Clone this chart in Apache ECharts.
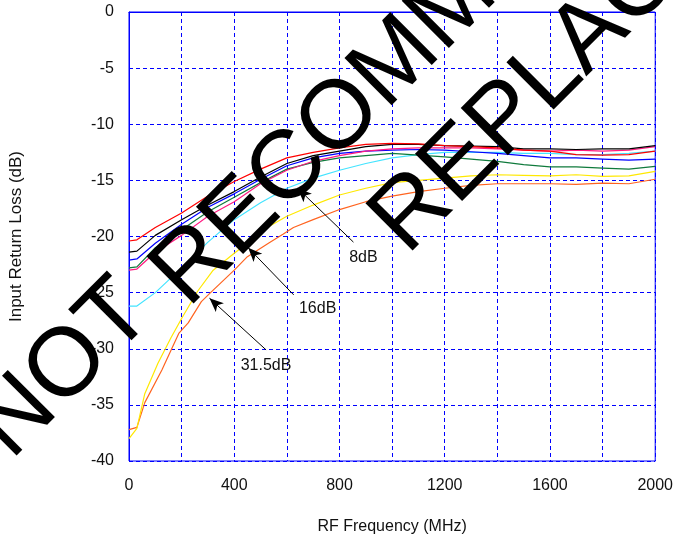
<!DOCTYPE html>
<html>
<head>
<meta charset="utf-8">
<script src="https://cdn.jsdelivr.net/npm/echarts@6/dist/echarts.min.js"></script>
<style>
  html, body { margin: 0; padding: 0; background: #fff; }
  #chart { width: 676px; height: 541px; }
</style>
</head>
<body>
<div id="chart"></div>
<script>
// frequency points (MHz) shared by the upper curves
const freq = [0, 30, 100, 200, 300, 400, 500, 600, 700, 800, 900, 1000, 1100, 1200, 1300, 1400, 1500, 1600, 1700, 1800, 1900, 2000]
const red = [-20.4, -20.3, -19.2, -17.9, -16.4, -15.1, -14.0, -13.0, -12.5, -12.1, -11.8, -11.7, -11.75, -11.9, -12.0, -12.1, -12.3, -12.4, -12.7, -12.75, -12.7, -12.4]
const black = [-21.4, -21.3, -19.9, -18.5, -17.2, -16.0, -14.7, -13.5, -12.8, -12.4, -12.0, -11.8, -11.8, -11.9, -11.95, -12.0, -12.2, -12.2, -12.25, -12.2, -12.2, -11.9]
const blue = [-22.1, -22.0, -20.6, -18.9, -17.4, -16.2, -14.9, -13.7, -13.0, -12.6, -12.4, -12.3, -12.25, -12.3, -12.45, -12.6, -12.8, -13.0, -13.0, -13.1, -13.2, -13.1]
const pink = [-23.0, -22.9, -21.4, -19.9, -18.2, -16.9, -15.3, -14.1, -13.3, -12.8, -12.4, -12.2, -12.1, -12.1, -12.1, -12.2, -12.3, -12.4, -12.3, -12.4, -12.3, -12.0]
const green = [-22.8, -22.7, -21.0, -19.4, -17.8, -16.5, -15.2, -14.0, -13.4, -13.0, -12.8, -12.6, -12.75, -12.9, -13.1, -13.3, -13.6, -13.8, -13.8, -13.9, -14.0, -13.75]
const cyan = [-26.2, -26.2, -25.0, -22.8, -20.5, -18.5, -17.0, -15.7, -14.8, -14.1, -13.5, -13.0, -12.7, -12.5, -12.5, -12.5, -12.6, -12.6, -12.7, -12.7, -12.6, -12.4]

const yellowFreq = [0, 30, 60, 110, 160, 200, 260, 320, 400, 450, 510, 600, 700, 800, 900, 1000, 1100, 1200, 1300, 1400, 1500, 1600, 1700, 1800, 1900, 2000]
const yellow = [-38.0, -37.1, -34.0, -31.3, -29.0, -27.3, -24.9, -23.0, -21.5, -20.6, -19.4, -18.2, -17.2, -16.3, -15.7, -15.2, -15.0, -14.8, -14.6, -14.5, -14.55, -14.6, -14.5, -14.65, -14.6, -14.2]

const orangeFreq = [0, 30, 60, 125, 190, 225, 275, 310, 400, 450, 530, 585, 625, 700, 800, 900, 1000, 1100, 1200, 1300, 1400, 1500, 1600, 1700, 1800, 1900, 2000]
const orange = [-37.2, -37.0, -34.8, -31.9, -28.6, -27.7, -25.8, -25.0, -23.0, -21.8, -20.6, -19.8, -19.2, -18.5, -17.6, -16.9, -16.4, -16.0, -15.7, -15.45, -15.3, -15.3, -15.3, -15.35, -15.25, -15.3, -14.9]

// annotation arrows (data coords)
const arrowNames = ['8dB', '16dB', '31.5dB']
const arrowTips = [[641, -15.7], [453, -21.0], [306, -25.5]]
const arrowTails = [[853, -20.5], [626, -25.2], [521, -30.1]]
const arrowLabelPos = [[891, -21.9], [717, -26.4], [521, -31.5]]

const FONT = '"Liberation Sans", Arial, sans-serif'
const WM_ANGLE = 45 * Math.PI / 180

function pairs(xs, ys) {
  return xs.map((x, i) => [x, ys[i]])
}

function curve(name, xs, ys, color) {
  return {
    name,
    type: 'line',
    data: pairs(xs, ys),
    showSymbol: false,
    symbol: 'none',
    lineStyle: { color, width: 1.2 },
    z: 3,
  }
}

function watermark(text, x, y) {
  return {
    type: 'text',
    x,
    y,
    rotation: WM_ANGLE,
    z: 100,
    silent: true,
    style: {
      text,
      font: '97px ' + FONT,
      fill: '#000',
      textAlign: 'left',
      textVerticalAlign: 'middle',
    },
  }
}

const chart = echarts.init(document.getElementById('chart'))

const option = {
  animation: false,
  grid: {
    left: 127,
    right: 19,
    top: 12,
    bottom: 80,
    show: true,
    borderColor: '#0000ff',
    borderWidth: 1,
  },
  xAxis: {
    type: 'value',
    min: 0,
    max: 2000,
    interval: 200,
    name: 'RF Frequency (MHz)',
    nameLocation: 'middle',
    nameGap: 58,
    nameTextStyle: { color: '#111', fontSize: 16, fontFamily: FONT },
    axisLine: { lineStyle: { color: '#0000ff', width: 1 } },
    axisTick: { show: false },
    axisLabel: {
      color: '#111',
      fontSize: 16,
      fontFamily: FONT,
      margin: 17,
      formatter: (v) => (v % 400 === 0 ? String(v) : ''),
    },
    splitLine: { lineStyle: { color: '#0000ff', type: [4, 3], width: 1 } },
  },
  yAxis: {
    type: 'value',
    min: -40,
    max: 0,
    interval: 5,
    name: 'Input Return Loss (dB)',
    nameLocation: 'middle',
    nameGap: 104,
    nameTextStyle: { color: '#111', fontSize: 17, fontFamily: FONT },
    axisLine: { lineStyle: { color: '#0000ff', width: 1 } },
    axisTick: { show: false },
    axisLabel: { color: '#111', fontSize: 16, fontFamily: FONT, margin: 15 },
    splitLine: { lineStyle: { color: '#0000ff', type: [4, 3], width: 1 } },
  },
  series: [
    curve('31.5dB', orangeFreq, orange, '#ff6420'),
    curve('16dB', yellowFreq, yellow, '#ffe800'),
    curve('cyan', freq, cyan, '#44e4ff'),
    curve('green', freq, green, '#0f7a3c'),
    curve('blue', freq, blue, '#0000ff'),
    curve('pink', freq, pink, '#ff1a80'),
    curve('black', freq, black, '#000000'),
    curve('8dB', freq, red, '#ff0000'),
    {
      name: 'annotations',
      type: 'line',
      data: [],
      z: 5,
      markLine: {
        silent: true,
        symbol: ['none', 'arrow'],
        symbolSize: [9, 14],
        label: { show: false },
        lineStyle: { color: '#000', width: 1, type: 'solid' },
        data: arrowNames.map((n, i) => [
          { coord: arrowTails[i] },
          { coord: arrowTips[i] },
        ]),
      },
      markPoint: {
        silent: true,
        symbol: 'circle',
        symbolSize: 0,
        label: {
          show: true,
          position: 'inside',
          color: '#111',
          fontSize: 16,
          fontFamily: FONT,
          formatter: (p) => p.name,
        },
        data: arrowNames.map((n, i) => ({ name: n, coord: arrowLabelPos[i] })),
      },
    },
  ],
  graphic: [
    watermark('NOT', -8, 442),
    watermark('RECOMMENDED FOR NEW DESIGNS', 169, 290),
    watermark('REPLACEMENT PART', 388, 237),
  ],
}

chart.setOption(option)
</script>
</body>
</html>
